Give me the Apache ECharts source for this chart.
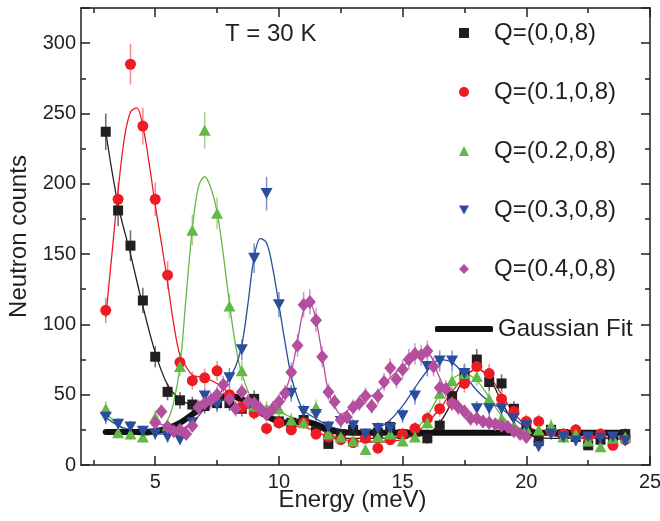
<!DOCTYPE html>
<html>
<head>
<meta charset="utf-8">
<script src="https://cdn.jsdelivr.net/npm/echarts@6/dist/echarts.min.js"></script>
<style>html,body{margin:0;padding:0;background:#fff}#c{width:660px;height:521px}</style>
</head>
<body>
<div id="c"></div>
<script>
// ---------- data ----------
const energy = [3,3.5,4,4.5,5,5.5,6,6.5,7,7.5,8,8.5,9,9.5,10,10.5,11,11.5,12,12.5,13,13.5,14,14.5,15,15.5,16,16.5,17,17.5,18,18.5,19,19.5,20,20.5,21,21.5,22,22.5,23,23.5,24];

const q0Counts = [237,181,156,117,77,52,46,43,42,44,44,40,47,38,31,30,32,24,15,22,25,20,23,27,22,24,19,28,49,64,75,59,58,40,28,17,25,22,20,14,18,20,22];
const q0Err    = [13,11,11,9,7.5,6,6,5.5,5.5,5.5,5.5,5.5,6,5,5,5,5,4,3.5,4,4,4,4,4.5,4,4,4,4.5,6,7,7.5,6.5,6.5,5.5,4.5,3.5,4,4,4,3,3.5,4,4];

const q1Counts = [110,189,285,241,189,135,73,60,62,67,50,41,37,26,30,25,30,22,20,18,16,19,12,18,22,26,33,40,44,58,70,65,47,38,31,31,24,22,25,20,22,14,18];
const q1Err    = [9,12,14.5,13,12,10,7,6.5,6.5,7,6,5.5,5,4.5,4.5,4,4.5,4,4,3.5,3.5,3.5,3,3.5,4,4.5,5,5.5,5.5,6.5,7,7,6,5.5,5,5,4,4,4,4,4,3,3.5];

const q2Counts = [40,23,22,20,34,28,70,167,238,179,113,67,42,40,40,32,30,41,22,20,17,11,20,22,17,20,30,51,60,65,63,47,33,28,26,25,28,20,22,17,13,19,20];
const q2Err    = [5.5,4,4,4,5,4.5,7,11,13,11.5,9,7,5.5,5.5,5.5,5,4.5,5.5,4,4,3.5,3,4,4,3.5,4,4.5,6,6.5,7,7,6,5,4.5,4.5,4,4.5,4,4,3.5,3,4,4];

const q3Counts = [34,29,27,24,22,20,18,30,49,43,62,82,147,193,114,51,38,36,27,31,28,22,26,26,35,49,70,74,74,65,40,40,40,33,28,13,22,20,17,20,19,20,17];
const q3Err    = [5,4.5,4.5,4,4,4,3.5,4.5,6,5.5,7,7.5,10.5,12,9,6,5,5,4.5,4.5,4.5,4,4.5,4.5,5,6,7,7.5,7.5,7,5.5,5.5,5.5,5,4.5,3,4,4,3.5,4,4,4,3.5];

const q4Energy = [5,5.25,5.5,5.75,6,6.25,6.5,6.75,7,7.25,7.5,7.75,8,8.25,8.5,8.75,9,9.25,9.5,9.75,10,10.25,10.5,10.75,11,11.25,11.5,11.75,12,12.25,12.5,12.75,13,13.25,13.5,13.75,14,14.25,14.5,14.75,15,15.25,15.5,15.75,16,16.25,16.5,16.75,17,17.25,17.5,17.75,18,18.25,18.5,18.75,19,19.25,19.5,19.75,20];
const q4Counts = [30,38,27,24,25,22,28,41,44,46,50,57,47,40,52,45,44,40,36,40,45,51,66,85,114,116,103,77,52,45,32,34,41,44,49,42,49,59,69,61,68,75,79,78,81,70,55,54,44,41,38,33,33,31,30,29,28,27,24,22,20];
const q4Err    = [4.5,5,4.5,4,4,4,4.5,5.5,5.5,6,6,6.5,6,5.5,6,5.5,5.5,5.5,5,5.5,5.5,6,7,8,9,9,8.5,7.5,6,5.5,5,5,5.5,5.5,6,5.5,6,6.5,7,6.5,7,7.5,7.5,7.5,7.5,7,6.5,6.5,5.5,5.5,5,5,5,4.5,4.5,4.5,4.5,4.5,4,4,4];

// fitted curves
const fit0X = [3,3.5,4,4.5,5,5.5,6,6.5,7,7.5,8,8.5,9,9.5,10,10.5,11,11.5,12,12.5,13,14,15,16,16.5,17,17.5,18,18.5,19,19.5,20,21,22,23,24];
const fit0Y = [237,185,150,113,80,57,47,43,43,45,47,46,42,36,32,30,30,27,22,19,19,19,20,22,30,45,62,68,62,45,30,22,19,19,19,20];

const fit1X = [3,3.25,3.5,3.75,4,4.25,4.5,4.75,5,5.25,5.5,5.75,6,6.25,6.5,7,7.5,8,8.5,9,9.5,10,10.5,11,11.5,12,12.5,13,14,15,15.5,16,16.5,17,17.5,18,18.5,19,19.5,20,20.5,21,22,23,24];
const fit1Y = [105,150,195,232,251,254,241,215,185,158,130,100,78,70,64,62,58,51,43,38,33,30,28,27,24,20,18,17,16,18,22,30,40,52,63,68,63,50,37,28,24,22,21,20,19];

const fit2X = [3,3.5,4,4.5,5,5.5,5.75,6,6.25,6.5,6.75,7,7.25,7.5,7.75,8,8.25,8.5,9,9.5,10,10.5,11,11.5,12,12.5,13,14,15,15.5,16,16.5,17,17.5,18,18.5,19,19.5,20,21,22,23,24];
const fit2Y = [38,28,23,21,23,32,45,70,120,168,198,205,197,180,150,115,85,65,44,40,38,34,32,30,22,19,17,17,20,25,35,50,61,65,60,48,35,27,24,22,20,19,19];

const fit3X = [3,3.5,4,4.5,5,5.5,6,6.5,7,7.5,8,8.25,8.5,8.75,9,9.25,9.5,9.75,10,10.25,10.5,10.75,11,11.5,12,12.5,13,13.5,14,14.5,15,15.5,16,16.5,17,17.5,18,18.5,19,19.5,20,21,22,23,24];
const fit3Y = [34,28,25,23,22,22,24,30,40,48,62,70,85,115,148,161,158,140,114,87,63,48,39,33,28,25,24,24,26,32,42,55,67,75,73,64,53,45,40,33,27,21,19,19,18];

const fit4X = [5,5.5,6,6.5,7,7.5,8,8.5,9,9.5,10,10.25,10.5,10.75,11,11.25,11.5,11.75,12,12.25,12.5,13,13.5,14,14.5,15,15.5,16,16.5,17,17.5,18,18.5,19,19.5,20];
const fit4Y = [30,28,26,30,40,48,48,46,43,40,44,52,66,88,110,115,103,78,52,42,36,42,47,52,62,70,76,79,62,45,37,33,30,28,25,21];

const gaussX = [3,4,4.5,5,5.5,6,6.5,7,7.5,8,8.5,9,9.5,10,10.5,11,11.5,12,12.5,13,14,16,18,20,22,24];
const gaussY = [23.5,23.5,23.5,24,26,30,36,42,47,49,47,41,35,31,30,31,29,25,23.5,23,23,23,23,23,23,23];

const seriesNames = ['Q=(0,0,8)','Q=(0.1,0,8)','Q=(0.2,0,8)','Q=(0.3,0,8)','Q=(0.4,0,8)'];
const fitName = 'Gaussian Fit';
const xMajor = [5,10,15,20,25];
const xMinor = [2.5,7.5,12.5,17.5,22.5];

// ---------- styling ----------
const FONT = "'Liberation Sans', Arial, Helvetica, sans-serif";
const INK = '#231f20';
const colors   = ['#231f20','#ed1c24','#62b946','#2a4d9e','#b44e9f'];
const errCols  = ['#6d6a6a','#f58a8e','#a5d68f','#7d93c6','#d596c8'];
const invTri = 'path://M0,0L20,0L10,18Z';
const symbols  = ['rect','circle','triangle',invTri,'diamond'];
const symSizes = [10,11,[12,11],[12,11],[12,14]];

const pts = (xs, ys) => xs.map((x, i) => [x, ys[i]]);
const errPts = (xs, ys, es) => xs.map((x, i) => [x, ys[i], es[i]]);

const dataSets = [
  {x: energy, y: q0Counts, e: q0Err, fx: fit0X, fy: fit0Y},
  {x: energy, y: q1Counts, e: q1Err, fx: fit1X, fy: fit1Y},
  {x: energy, y: q2Counts, e: q2Err, fx: fit2X, fy: fit2Y},
  {x: energy, y: q3Counts, e: q3Err, fx: fit3X, fy: fit3Y},
  {x: q4Energy, y: q4Counts, e: q4Err, fx: fit4X, fy: fit4Y}
];

const series = [];
dataSets.forEach((d, k) => {
  series.push({
    type: 'custom', silent: true, clip: true, z: 1,
    xAxisIndex: 0, yAxisIndex: 0,
    encode: {x: 0, y: 1},
    data: errPts(d.x, d.y, d.e),
    renderItem: (params, api) => {
      const x = api.value(0), y = api.value(1), e = api.value(2);
      const a = api.coord([x, y - e]), b = api.coord([x, y + e]);
      return {type: 'line', shape: {x1: a[0], y1: a[1], x2: b[0], y2: b[1]},
              style: {stroke: errCols[k], lineWidth: 1.5}};
    }
  });
});
dataSets.forEach((d, k) => {
  series.push({
    type: 'line', silent: true, z: 2, smooth: 0.35, showSymbol: false,
    data: pts(d.fx, d.fy),
    lineStyle: {color: colors[k], width: 1.3},
    itemStyle: {color: colors[k]}
  });
});
series.push({
  name: fitName, type: 'line', silent: true, z: 3, smooth: 0.3, showSymbol: false,
  data: pts(gaussX, gaussY),
  lineStyle: {color: '#111', width: 6, cap: 'round', join: 'round'},
  itemStyle: {color: '#111'}
});
dataSets.forEach((d, k) => {
  series.push({
    name: seriesNames[k], type: 'scatter', z: 4, silent: true,
    symbol: symbols[k], symbolSize: symSizes[k],
    data: pts(d.x, d.y),
    itemStyle: {color: colors[k], opacity: 1}
  });
});

const baseX = {type: 'value', min: 2, max: 25, splitLine: {show: false}};
const axisLineStyle = {show: true, onZero: false, lineStyle: {color: INK, width: 1.5}};

const option = {
  animation: false,
  backgroundColor: '#fff',
  textStyle: {fontFamily: FONT, color: INK},
  title: {
    text: 'T = 30 K', left: 220, top: 17,
    textStyle: {fontFamily: FONT, fontSize: 24, fontWeight: 'normal', color: INK}
  },
  grid: {left: 81, right: 10, top: 8, bottom: 56, containLabel: false, outerBoundsMode: 'none'},
  legend: [
    {
      orient: 'vertical', left: 454, top: 16, itemWidth: 10, itemHeight: 10, itemGap: 35,
      selectedMode: false,
      data: seriesNames.map((n, k) => ({name: n, icon: symbols[k]})),
      textStyle: {fontFamily: FONT, fontSize: 24, lineHeight: 24, color: INK, padding: [0, 0, 0, 20]}
    },
    {
      orient: 'vertical', left: 430, top: 312, itemWidth: 58, itemHeight: 6,
      selectedMode: false,
      data: [{name: fitName, icon: 'roundRect'}],
      textStyle: {fontFamily: FONT, fontSize: 24, lineHeight: 24, color: INK}
    }
  ],
  xAxis: [
    Object.assign({}, baseX, {
      position: 'bottom',
      axisLine: axisLineStyle,
      axisTick: {show: true, inside: true, length: 9, customValues: xMajor, lineStyle: {color: INK, width: 1.5}},
      axisLabel: {customValues: xMajor, fontFamily: FONT, fontSize: 20, color: INK, margin: 7},
      name: 'Energy (meV)', nameLocation: 'middle', nameGap: 23, nameMoveOverlap: false,
      nameTextStyle: {fontFamily: FONT, fontSize: 24, color: INK, padding: [0, 26, 0, 0]}
    }),
    Object.assign({}, baseX, {
      position: 'bottom',
      axisLine: {show: false, onZero: false},
      axisTick: {show: true, inside: true, length: 5, customValues: xMinor, lineStyle: {color: INK, width: 1.5}},
      axisLabel: {show: false}
    }),
    Object.assign({}, baseX, {
      position: 'top',
      axisLine: axisLineStyle,
      axisTick: {show: true, inside: true, length: 9, customValues: xMajor, lineStyle: {color: INK, width: 1.5}},
      axisLabel: {show: false}
    }),
    Object.assign({}, baseX, {
      position: 'top',
      axisLine: {show: false, onZero: false},
      axisTick: {show: true, inside: true, length: 5, customValues: xMinor, lineStyle: {color: INK, width: 1.5}},
      axisLabel: {show: false}
    })
  ],
  yAxis: [
    {
      type: 'value', position: 'left', min: 0, max: 325, interval: 50,
      splitLine: {show: false},
      axisLine: axisLineStyle,
      axisTick: {show: true, inside: true, length: 9, lineStyle: {color: INK, width: 1.5}},
      minorTick: {show: true, splitNumber: 2, length: 5, lineStyle: {color: INK, width: 1.5}},
      minorSplitLine: {show: false},
      axisLabel: {fontFamily: FONT, fontSize: 20, color: INK, margin: 5, showMaxLabel: false},
      name: 'Neutron counts', nameLocation: 'middle', nameGap: 50, nameMoveOverlap: false,
      nameTextStyle: {fontFamily: FONT, fontSize: 24, color: INK}
    },
    {
      type: 'value', position: 'right', min: 0, max: 325, interval: 50,
      splitLine: {show: false},
      axisLine: axisLineStyle,
      axisTick: {show: true, inside: true, length: 9, lineStyle: {color: INK, width: 1.5}},
      minorTick: {show: true, splitNumber: 2, length: 5, lineStyle: {color: INK, width: 1.5}},
      minorSplitLine: {show: false},
      axisLabel: {show: false}
    }
  ],
  series: series
};

const chart = echarts.init(document.getElementById('c'), null, {renderer: 'canvas'});
chart.setOption(option);
</script>
</body>
</html>
